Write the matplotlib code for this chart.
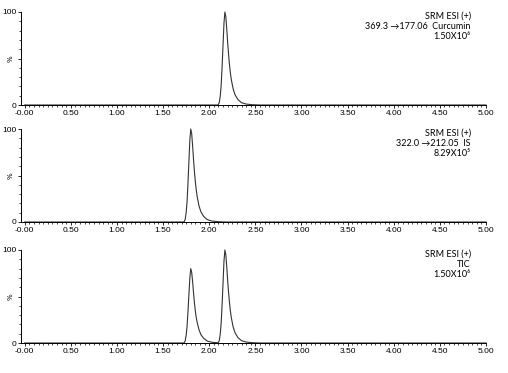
import matplotlib.pyplot as plt
import numpy as np
from matplotlib.ticker import FixedLocator, MultipleLocator

# retention time (min) and relative abundance (%)
t_cur = [0.00, 2.09, 2.10, 2.11, 2.12, 2.13, 2.14, 2.15, 2.16, 2.17, 2.18, 2.19,
         2.20, 2.21, 2.22, 2.23, 2.24, 2.26, 2.28, 2.31, 2.35, 2.40, 2.47, 2.55, 5.00]
y_cur = [0.0, 0.0, 0.5, 3.0, 10.0, 22.0, 42.0, 65.0, 88.0, 100.0, 95.0, 82.0,
         67.0, 54.0, 43.0, 34.0, 27.0, 17.0, 11.0, 6.0, 2.5, 1.0, 0.3, 0.0, 0.0]

t_is = [0.00, 1.72, 1.73, 1.74, 1.75, 1.76, 1.77, 1.78, 1.79, 1.80, 1.81, 1.82,
        1.83, 1.84, 1.85, 1.86, 1.87, 1.89, 1.91, 1.94, 1.98, 2.03, 2.10, 2.18, 5.00]
y_is = [0.0, 0.0, 0.5, 3.0, 10.0, 22.0, 42.0, 65.0, 88.0, 100.0, 95.0, 82.0,
        67.0, 54.0, 43.0, 34.0, 27.0, 17.0, 11.0, 6.0, 2.5, 1.0, 0.3, 0.0, 0.0]

t_tic = [0.00, 1.72, 1.73, 1.74, 1.75, 1.76, 1.77, 1.78, 1.79, 1.80, 1.81, 1.82,
         1.83, 1.84, 1.85, 1.86, 1.87, 1.89, 1.91, 1.94, 1.98, 2.03, 2.09, 2.10,
         2.11, 2.12, 2.13, 2.14, 2.15, 2.16, 2.17, 2.18, 2.19, 2.20, 2.21, 2.22,
         2.23, 2.24, 2.26, 2.28, 2.31, 2.35, 2.40, 2.47, 2.55, 5.00]
y_tic = [0.0, 0.0, 0.4, 2.4, 8.0, 18.0, 34.0, 52.0, 70.0, 80.0, 76.0, 66.0,
         54.0, 43.0, 34.0, 27.0, 22.0, 14.0, 9.0, 5.0, 2.0, 0.8, 0.3, 0.8,
         3.0, 10.0, 22.0, 42.0, 65.0, 88.0, 100.0, 95.0, 82.0, 67.0, 54.0, 43.0,
         34.0, 27.0, 17.0, 11.0, 6.0, 2.5, 1.0, 0.3, 0.0, 0.0]

labels = [["SRM ESI (+)", "369.3 \u2192177.06  Curcumin", "1.50X10\u2076"],
          ["SRM ESI (+)", "322.0 \u2192212.05  IS", "8.29X10\u2075"],
          ["SRM ESI (+)", "TIC", "1.50X10\u2076"]]

x_ticks = [0.0, 0.5, 1.0, 1.5, 2.0, 2.5, 3.0, 3.5, 4.0, 4.5, 5.0]
x_ticklabels = ["-0.00", "0.50", "1.00", "1.50", "2.00", "2.50",
                "3.00", "3.50", "4.00", "4.50", "5.00"]

fig = plt.figure(figsize=(5.08, 3.73), dpi=100)
W, H = 508, 373
tops = [12, 129, 250]
bottoms = [105, 222, 343]
left, right = 21, 486

series = [(t_cur, y_cur), (t_is, y_is), (t_tic, y_tic)]
for i in range(3):
    ax = fig.add_axes([left / W, 1 - bottoms[i] / H, (right - left) / W,
                       (bottoms[i] - tops[i]) / H])
    t, y = series[i]
    ax.plot(t, y, color='#333333', lw=0.8, clip_on=False)
    ax.set_xlim(-0.04, 5.0)
    ax.set_ylim(0, 100)
    for s in ['top', 'right']:
        ax.spines[s].set_visible(False)
    for s in ['left', 'bottom']:
        ax.spines[s].set_linewidth(0.7)
    ax.xaxis.set_major_locator(FixedLocator(x_ticks))
    ax.set_xticklabels(x_ticklabels)
    ax.xaxis.set_minor_locator(MultipleLocator(0.05))
    ax.yaxis.set_major_locator(FixedLocator([0, 50, 100]))
    ax.set_yticklabels(["0", "", "100"])
    ax.yaxis.set_minor_locator(MultipleLocator(10))
    ax.tick_params(axis='both', which='major', length=2.5, width=0.6,
                   labelsize=6, pad=1, direction='out')
    ax.tick_params(axis='both', which='minor', length=1.5, width=0.5)
    for lab in ax.get_xticklabels() + ax.get_yticklabels():
        lab.set_family('Liberation Sans')
    ax.text(-0.015, 0.5, "%", rotation=90, fontsize=5, transform=ax.transAxes,
            ha='right', va='center')
    ax.text(0.967, 1.0, "\n".join(labels[i]), transform=ax.transAxes,
            ha='right', va='top', fontsize=6.5, linespacing=1.12,
            family=['Lato', 'DejaVu Sans'])

fig.savefig("out.png", dpi=100)
